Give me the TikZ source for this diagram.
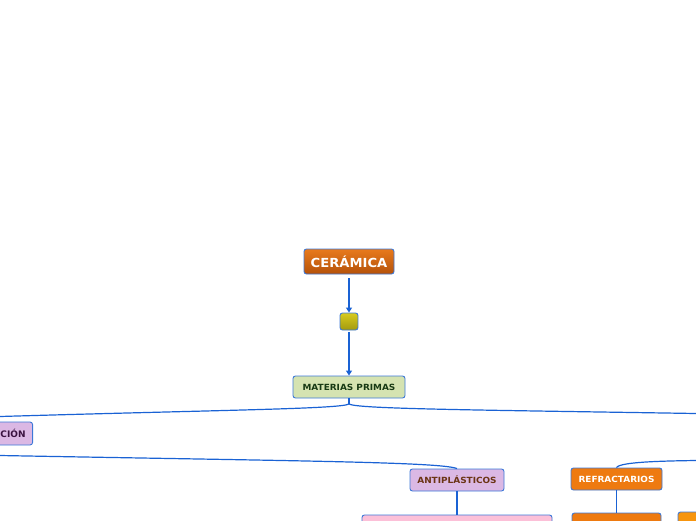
\documentclass[tikz,border=0pt]{standalone}
\usepackage{fontspec}
\setmainfont{DejaVu Sans}
\newfontfamily\mapfont[FakeStretch=1.05]{DejaVu Sans}
\usepackage{xcolor}
\usetikzlibrary{arrows.meta,positioning}

\definecolor{linkblue}{HTML}{1A62D4}
\definecolor{edgeblue}{HTML}{3C78D8}
\definecolor{topora}{HTML}{E87A1C}
\definecolor{botora}{HTML}{B5520A}
\definecolor{sqtop}{HTML}{D8CB1E}
\definecolor{sqbot}{HTML}{A29A0E}
\definecolor{greenfill}{HTML}{D5E3B1}
\definecolor{greentext}{HTML}{183A14}
\definecolor{lilac}{HTML}{DBB8E4}
\definecolor{purpletext}{HTML}{3A1240}
\definecolor{browntext}{HTML}{6B3414}
\definecolor{pinkfill}{HTML}{FCC0D8}
\definecolor{orafill}{HTML}{EE7A10}
\definecolor{lightora}{HTML}{F7950E}

\begin{document}
\begin{tikzpicture}[x=1pt, y=-1pt,
  b/.style={draw=edgeblue, line width=0.9pt, rounded corners=2.5pt, inner sep=0pt, align=center, font=\mapfont\bfseries\fontsize{8.5}{10}\selectfont},
  a/.style={-{Triangle[length=5pt, width=6pt]}, linkblue, line width=1.2pt},
  l/.style={linkblue, line width=1.2pt}
]
  \useasboundingbox (0,0) rectangle (696,520);
  \begin{scope}
  \clip (0,0) rectangle (696,520);
  \node[b, top color=topora, bottom color=botora, text=white, minimum width=90pt, minimum height=25pt, font=\mapfont\bfseries\fontsize{12.5}{14}\selectfont] (cer) at (349,261.5) {CERÁMICA};
  \node[b, top color=sqtop, bottom color=sqbot, minimum width=18pt, minimum height=17pt] (sq) at (349,321.5) {};
  \node[b, fill=greenfill, text=greentext, minimum width=112pt, minimum height=22pt] (mp) at (349,387) {MATERIAS PRIMAS};
  \node[b, fill=lilac, text=purpletext, minimum height=23pt, text width=70pt, align=right, inner xsep=7pt, anchor=east, font=\bfseries\fontsize{9}{11}\selectfont] (cion) at (33,433.5) {CIÓN};
  \node[b, fill=lilac, text=browntext, minimum width=94pt, minimum height=22pt] (anti) at (457,480) {ANTIPLÁSTICOS};
  \node[b, fill=pinkfill, minimum width=190pt, minimum height=24pt] (pink) at (457,527) {};
  \node[b, fill=orafill, text=white, minimum width=91pt, minimum height=22pt] (refr) at (616.5,479) {REFRACTARIOS};
  \node[b, fill=orafill, minimum width=89pt, minimum height=24pt] (ora) at (616.5,525) {};
  \node[b, fill=lightora, minimum width=62pt, minimum height=24pt] (lora) at (709,524) {};

  \coordinate (fork) at (349,404);
  \coordinate (lout) at (0,416.5);
  \coordinate (rout) at (696,413.5);
  \coordinate (lin) at (0,455.5);
  \coordinate (rin) at (696,460.5);

  \draw[a] ([yshift=-4pt]cer.south) -- (sq.north);
  \draw[a] ([yshift=-2pt]sq.south) -- (mp.north);
  \draw[l] (mp.south) -- (fork);
  \draw[l] (fork) .. controls (340,409) and (220,410) .. (lout);
  \draw[l] (fork) .. controls (357,409) and (480,410) .. (rout);
  \draw[l] (lin) .. controls (300,461) and (440,462) .. (anti.north);
  \draw[l] (anti.south) -- (pink.north);
  \draw[l] (rin) .. controls (660,461) and (620,462) .. (refr.north);
  \draw[l] (refr.south) -- (ora.north);
  \end{scope}
\end{tikzpicture}
\end{document}
